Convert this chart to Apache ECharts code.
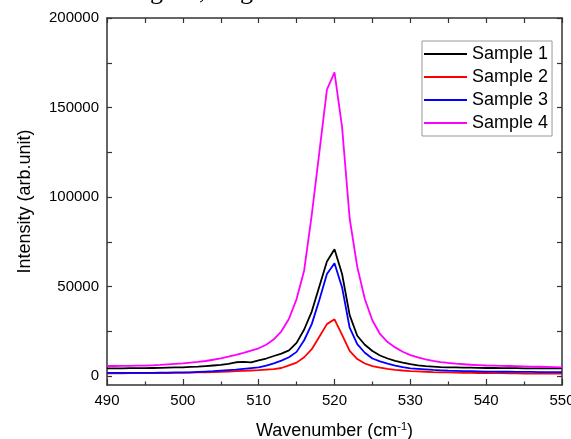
<!DOCTYPE html>
<html>
<head>
<meta charset="utf-8">
<script src="https://cdn.jsdelivr.net/npm/echarts@6/dist/echarts.min.js"></script>
<style>html,body{margin:0;padding:0;background:#fff;}#c{width:571px;height:439px;}</style>
</head>
<body>
<div id="c"></div>
<script>
const wavenumbers = [490,491,492,493,494,495,496,497,498,499,500,501,502,503,504,505,506,507,508,509,510,511,512,513,514,515,516,517,518,519,520,521,522,523,524,525,526,527,528,529,530,531,532,533,534,535,536,537,538,539,540,541,542,543,544,545,546,547,548,549,550];
const sample1 = [4300,4300,4300,4400,4400,4400,4500,4600,4700,4800,4900,5100,5300,5600,5900,6200,6800,7700,7900,7600,8700,9800,11200,12500,14300,18500,26000,36000,50000,64000,70800,57000,34000,22500,17500,14000,11500,9800,8500,7500,6600,6000,5600,5300,5000,4900,4800,4700,4700,4600,4500,4500,4400,4400,4400,4300,4300,4300,4300,4300,4300];
const sample2 = [1500,1500,1500,1600,1600,1600,1600,1700,1700,1800,1800,1900,2000,2100,2200,2400,2500,2700,2900,3100,3300,3600,3900,4500,6000,7500,10500,15000,22000,29000,31700,23000,14000,9500,7000,5600,4700,4000,3500,3100,2800,2600,2400,2200,2100,2000,1900,1800,1800,1700,1700,1600,1600,1500,1500,1400,1400,1400,1300,1300,1300];
const sample3 = [1800,1800,1800,1800,1800,1800,1800,1900,1900,2000,2000,2100,2300,2500,2700,3000,3300,3600,4000,4400,4800,5800,7100,8600,10500,13500,20000,29000,42500,57000,63000,49500,27000,17800,13000,9800,8200,6900,5800,5000,4300,4000,3700,3400,3200,3000,2900,2800,2700,2600,2500,2500,2400,2400,2300,2300,2300,2200,2200,2200,2200];
const sample4 = [5600,5600,5700,5700,5800,5800,6000,6200,6500,6800,7100,7500,7900,8400,9100,9900,10800,11800,12900,14200,15500,17500,20500,25000,32000,43000,59000,90000,125000,160000,169600,139000,88000,61000,43000,31000,23500,19000,16000,13600,11700,10400,9300,8500,7800,7300,6900,6600,6300,6100,5900,5800,5700,5600,5500,5400,5300,5200,5100,5000,4900];
const seriesNames = ['Sample 1','Sample 2','Sample 3','Sample 4'];
const seriesColors = ['#000000','#ff0000','#0000ff','#ff00ff'];
const xTicks = [490,500,510,520,530,540,550];
const yTickLabels = [0,50000,100000,150000,200000];

const FONT = '"Liberation Sans", Arial, sans-serif';
const allData = [sample1, sample2, sample3, sample4];
const chart = echarts.init(document.getElementById('c'), null, {renderer:'canvas'});
const axisLineStyle = {color:'#333', width:1.5};
const tickColor = {color:'#333', width:1.2};
chart.setOption({
  animation:false,
  backgroundColor:'#fff',
  grid:[
    {left:107, right:9, top:18, bottom:54, containLabel:false, outerBoundsMode:'none'},
    {left:107, right:9, top:18, bottom:63, containLabel:false, outerBoundsMode:'none'}
  ],
  graphic:[
    {type:'text', x:150, y:-21, style:{text:'g', font:'26px "Liberation Serif", serif', fill:'#000'}},
    {type:'text', x:199, y:-21, style:{text:',', font:'26px "Liberation Serif", serif', fill:'#000'}},
    {type:'text', x:240, y:-21, style:{text:'g', font:'26px "Liberation Serif", serif', fill:'#000'}}
  ],
  legend:{
    data:seriesNames, orient:'vertical', left:422, top:41,
    itemWidth:43, itemHeight:2, icon:'rect', itemGap:5,
    padding:[4,4,4,2], borderColor:'#999', borderWidth:1, backgroundColor:'#fff',
    textStyle:{fontSize:18, color:'#000', fontFamily:FONT}
  },
  xAxis:[{
    gridIndex:0, type:'value', min:490, max:550, interval:10,
    name:'Wavenumber (cm{sup|-1})', nameLocation:'middle', nameGap:36,
    nameTextStyle:{fontSize:18, color:'#000', fontFamily:FONT, rich:{sup:{fontSize:11, verticalAlign:'top', padding:[0,0,10,0], fontFamily:FONT}}},
    axisLine:{show:true, onZero:false, lineStyle:axisLineStyle},
    axisTick:{show:true, inside:true, length:6, lineStyle:tickColor},
    minorTick:{show:true, splitNumber:2, length:3.5, lineStyle:tickColor},
    axisLabel:{fontSize:15, color:'#000', fontFamily:FONT, margin:8,
      formatter:v=> xTicks.indexOf(v) >= 0 ? String(v) : ''},
    splitLine:{show:false}
  },{
    gridIndex:0, type:'value', position:'top', min:490, max:550, interval:10,
    axisLine:{show:true, onZero:false, lineStyle:axisLineStyle},
    axisTick:{show:true, inside:true, length:5, lineStyle:tickColor},
    minorTick:{show:true, splitNumber:2, length:5, lineStyle:tickColor},
    axisLabel:{show:false}, splitLine:{show:false}
  },{
    gridIndex:1, type:'value', min:490, max:550, show:false
  }],
  yAxis:[{
    gridIndex:0, type:'value', min:-5000, max:200000,
    name:'Intensity (arb.unit)', nameLocation:'middle', nameGap:73, nameRotate:90,
    nameTextStyle:{fontSize:18, color:'#000', fontFamily:FONT},
    axisLine:{show:true, onZero:false, lineStyle:axisLineStyle},
    axisTick:{show:false}, axisLabel:{show:false}, splitLine:{show:false}
  },{
    gridIndex:0, type:'value', position:'right', min:-5000, max:200000,
    axisLine:{show:true, onZero:false, lineStyle:axisLineStyle},
    axisTick:{show:false}, axisLabel:{show:false}, splitLine:{show:false}
  },{
    gridIndex:1, type:'value', min:0, max:200000, interval:25000,
    axisLine:{show:false},
    axisTick:{show:true, inside:true, length:5, lineStyle:tickColor},
    axisLabel:{fontSize:15, color:'#000', fontFamily:FONT, margin:8,
      formatter:v=> yTickLabels.indexOf(v) >= 0 ? String(v) : ''},
    splitLine:{show:false}
  },{
    gridIndex:1, type:'value', position:'right', min:0, max:200000, interval:25000,
    axisLine:{show:false},
    axisTick:{show:true, inside:true, length:5, lineStyle:tickColor},
    axisLabel:{show:false}, splitLine:{show:false}
  }],
  series: seriesNames.map((n,i)=>({
    name:n, type:'line', xAxisIndex:0, yAxisIndex:0,
    showSymbol:false, symbol:'none', smooth:false,
    color:seriesColors[i],
    lineStyle:{color:seriesColors[i], width:1.8},
    data: wavenumbers.map((w,k)=>[w, allData[i][k]])
  }))
});
</script>
</body>
</html>
